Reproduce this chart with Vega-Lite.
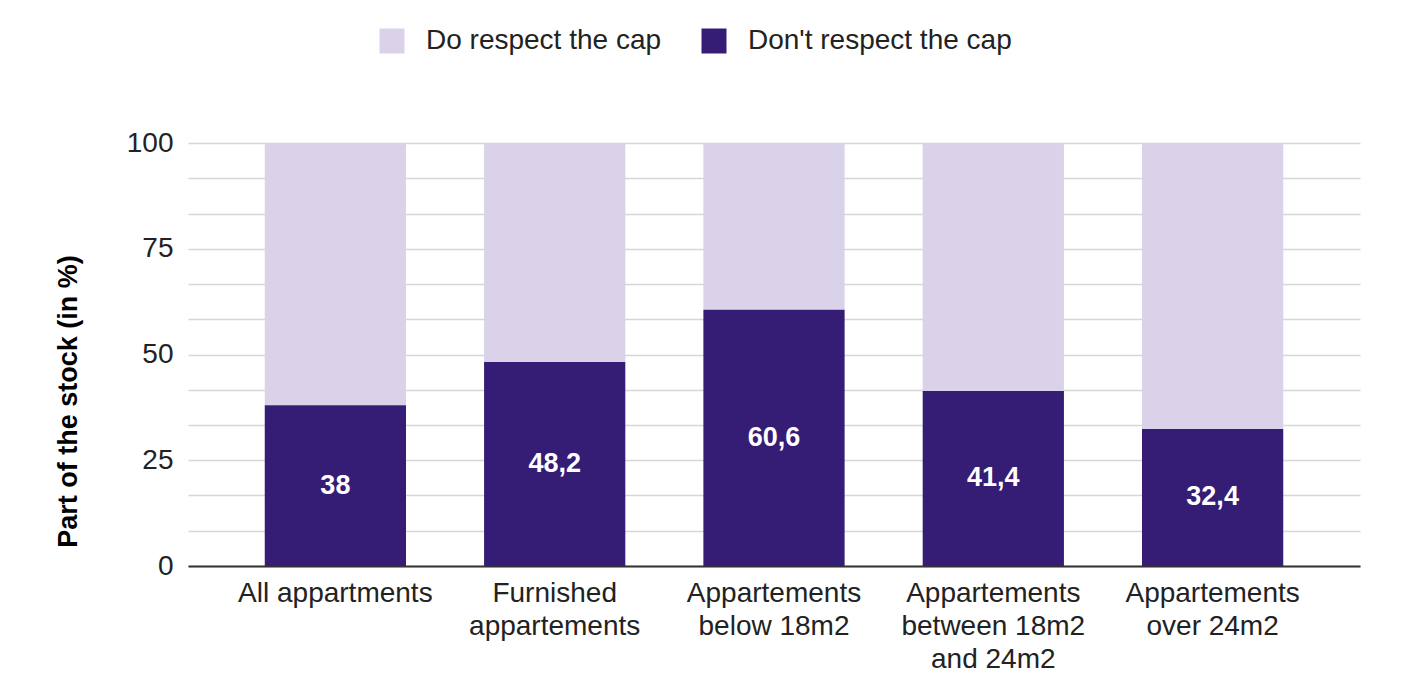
{
  "$schema": "https://vega.github.io/schema/vega-lite/v6.json",
  "autosize": "none",
  "width": 1172,
  "height": 423,
  "padding": {"left": 188, "top": 143, "right": 49, "bottom": 107},
  "background": "white",
  "config": {
    "font": "Liberation Sans",
    "view": {"stroke": null},
    "locale": {"number": {"decimal": ",", "thousands": ".", "grouping": [3], "currency": ["", " €"]}},
    "axisY": {
      "title": "Part of the stock (in %)",
      "titleFontSize": 27,
      "titleFontWeight": "bold",
      "titleColor": "#000000",
      "titlePadding": 44,
      "titleY": 258,
      "labelOverlap": false,
      "labelFontSize": 28,
      "labelColor": "#222222",
      "labelPadding": 15,
      "ticks": false,
      "domain": false,
      "grid": true,
      "gridColor": "#d6d6d6",
      "gridWidth": 1.5
    }
  },
  "data": {
    "values": [
      {"category": "All appartments", "series": "Do respect the cap", "value": 62},
      {"category": "All appartments", "series": "Don't respect the cap", "value": 38},
      {"category": "Furnished appartements", "series": "Do respect the cap", "value": 51.8},
      {"category": "Furnished appartements", "series": "Don't respect the cap", "value": 48.2},
      {"category": "Appartements below 18m2", "series": "Do respect the cap", "value": 39.4},
      {"category": "Appartements below 18m2", "series": "Don't respect the cap", "value": 60.6},
      {"category": "Appartements between 18m2 and 24m2", "series": "Do respect the cap", "value": 58.6},
      {"category": "Appartements between 18m2 and 24m2", "series": "Don't respect the cap", "value": 41.4},
      {"category": "Appartements over 24m2", "series": "Do respect the cap", "value": 67.6},
      {"category": "Appartements over 24m2", "series": "Don't respect the cap", "value": 32.4}
    ]
  },
  "encoding": {
    "x": {
      "field": "category",
      "type": "nominal",
      "sort": null,
      "scale": {"paddingInner": 0.356, "paddingOuter": 0.35},
      "axis": {
        "title": null,
        "labelAngle": 0,
        "labelFontSize": 28,
        "labelColor": "#222222",
        "labelPadding": 13,
        "labelLimit": 0,
        "labelLineHeight": 33,
        "labelBaseline": "top",
        "ticks": false,
        "domainColor": "#333333",
        "domainWidth": 2,
        "grid": false,
        "labelExpr": "datum.label == 'Furnished appartements' ? ['Furnished', 'appartements'] : datum.label == 'Appartements below 18m2' ? ['Appartements', 'below 18m2'] : datum.label == 'Appartements between 18m2 and 24m2' ? ['Appartements', 'between 18m2', 'and 24m2'] : datum.label == 'Appartements over 24m2' ? ['Appartements', 'over 24m2'] : datum.label"
      }
    }
  },
  "layer": [
    {
      "mark": {"type": "bar"},
      "encoding": {
        "y": {
          "field": "value",
          "type": "quantitative",
          "stack": "zero",
          "scale": {"domain": [0, 100], "nice": false},
          "axis": {
            "title": "Part of the stock (in %)",
            "values": [0, 8.3333, 16.6667, 25, 33.3333, 41.6667, 50, 58.3333, 66.6667, 75, 83.3333, 91.6667, 100],
            "labelExpr": "datum.value % 25 == 0 ? datum.label : ''"
          }
        },
        "color": {
          "field": "series",
          "type": "nominal",
          "scale": {"domain": ["Do respect the cap", "Don't respect the cap"], "range": ["#d9d2e9", "#351c75"]},
          "legend": {
            "title": null,
            "orient": "none",
            "direction": "horizontal",
            "legendX": 190,
            "legendY": -116,
            "labelFontSize": 28,
            "labelColor": "#222222",
            "labelOffset": 20,
            "labelLimit": 0,
            "symbolType": "square",
            "symbolSize": 625,
            "symbolStrokeWidth": 0,
            "symbolOpacity": 1,
            "columnPadding": 38
          }
        },
        "order": {"field": "series", "sort": "descending"}
      }
    },
    {
      "transform": [
        {"filter": "datum.series == \"Don't respect the cap\""},
        {"calculate": "datum.value / 2", "as": "mid"}
      ],
      "mark": {"type": "text", "color": "white", "fontSize": 27, "fontWeight": "bold", "baseline": "middle", "align": "center"},
      "encoding": {
        "y": {
          "field": "mid",
          "type": "quantitative",
          "axis": {
            "title": "Part of the stock (in %)",
            "values": [0, 8.3333, 16.6667, 25, 33.3333, 41.6667, 50, 58.3333, 66.6667, 75, 83.3333, 91.6667, 100],
            "labelExpr": "datum.value % 25 == 0 ? datum.label : ''"
          }
        },
        "text": {"field": "value", "type": "quantitative", "format": ".1~f"}
      }
    }
  ]
}
